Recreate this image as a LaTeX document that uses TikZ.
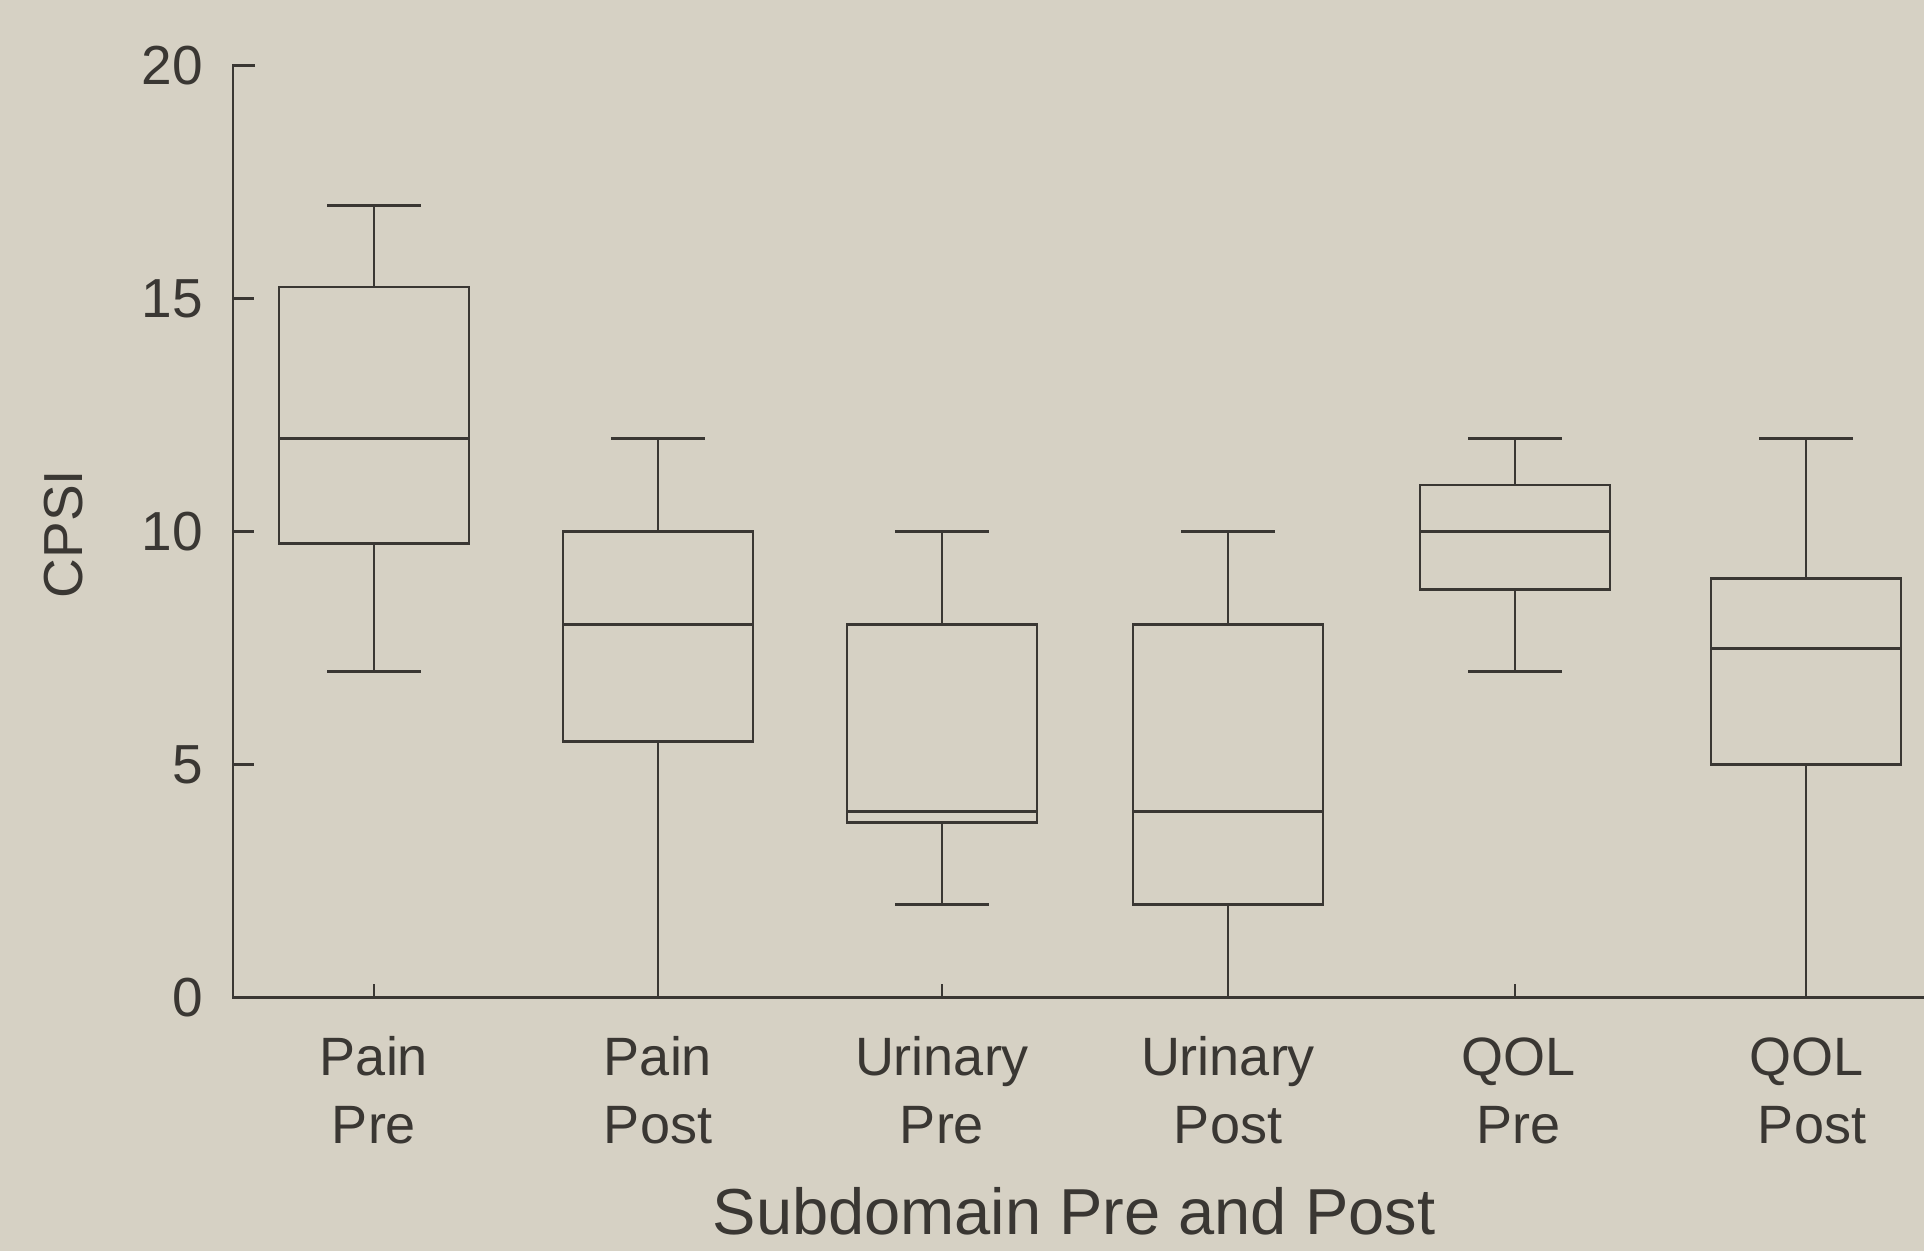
\documentclass[tikz,border=0pt]{standalone}
\usepackage{fontspec}
\setmainfont{Liberation Sans}
\definecolor{bg}{HTML}{D6D1C4}
\definecolor{ink}{HTML}{3A3733}
\tikzset{
  plotline/.style={draw=ink, line width=2.8pt, line cap=butt, line join=miter},
  ticklabel/.style={text=ink, font=\fontsize{55}{66}\selectfont, inner sep=0pt},
  catlabel/.style={text=ink, font=\fontsize{54}{66}\selectfont, inner sep=0pt, anchor=base},
}
\newcommand{\bxplot}[8]{% name, center, min, q1, med, q3, max, draw lower cap (1/0)
  \draw[plotline] (#2-95,#4) rectangle (#2+95,#6);
  \draw[plotline] (#2-95,#5) -- (#2+95,#5);
  \draw[plotline] (#2,#6) -- (#2,#7);
  \draw[plotline] (#2-47,#7) -- (#2+47,#7);
  \draw[plotline] (#2,#4) -- (#2,#3);
  \ifnum#8=1 \draw[plotline] (#2-47,#3) -- (#2+47,#3);\fi
  \coordinate (#1) at (#2,0);
}
\begin{document}
\begin{tikzpicture}[x=1pt,y=-1pt]
\fill[bg] (0,0) rectangle (1924,1251);
\useasboundingbox (0,0) rectangle (1924,1251);
\begin{scope}[shift={(0,997.6)}, y=46.6pt]
  % axes
  \draw[plotline] (255,20) -- (233,20) -- (233,0) -- (1924,0);
  \foreach \v in {5,10,15} \draw[plotline] (233,\v) -- (254,\v);
  \foreach \v in {0,5,10,15,20} \node[ticklabel, anchor=east] (t\v) at (203,\v) {\v};
  % boxes
  \bxplot{painpre}{374}{7}{9.75}{12}{15.25}{17}{1}
  \bxplot{painpost}{658}{0}{5.5}{8}{10}{12}{0}
  \bxplot{urinpre}{942}{2}{3.75}{4}{8}{10}{1}
  \bxplot{urinpost}{1228}{0}{2}{4}{8}{10}{0}
  \bxplot{qolpre}{1515}{7}{8.75}{10}{11}{12}{1}
  \bxplot{qolpost}{1806}{0}{5}{7.5}{9}{12}{0}
  % x ticks
  \foreach \c in {374,942,1515} \draw[plotline] (\c,0) -- (\c,0.3);
\end{scope}
% category labels
\node[catlabel] (l1a) at (374,1075) {Pain};
\node[catlabel] (l1b) at (374,1143) {Pre};
\node[catlabel] (l2a) at (658,1075) {Pain};
\node[catlabel] (l2b) at (658,1143) {Post};
\node[catlabel] (l3a) at (942,1075) {Urinary};
\node[catlabel] (l3b) at (942,1143) {Pre};
\node[catlabel] (l4a) at (1228,1075) {Urinary};
\node[catlabel] (l4b) at (1228,1143) {Post};
\node[catlabel] (l5a) at (1518,1075) {QOL};
\node[catlabel] (l5b) at (1518,1143) {Pre};
\node[catlabel] (l6a) at (1806,1075) {QOL};
\node[catlabel] (l6b) at (1812,1143) {Post};
% axis titles
\node[text=ink, font=\fontsize{65}{78}\selectfont, inner sep=0pt, anchor=base] (xt) at (1074,1234) {Subdomain Pre and Post};
\node[text=ink, font=\fontsize{55}{66}\selectfont, inner sep=0pt, rotate=90] (yt) at (64,534) {CPSI};
\end{tikzpicture}
\end{document}
